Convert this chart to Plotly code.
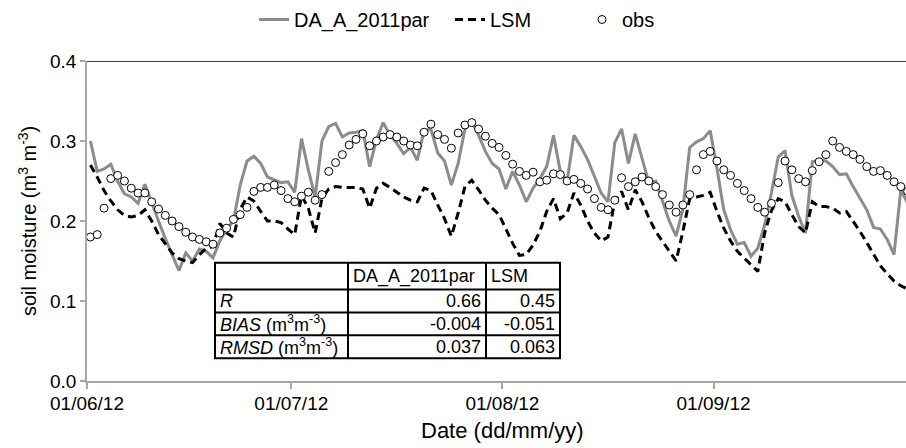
import pandas as pd
import plotly.graph_objects as go

# ---------------- data (daily, starting 01/06/2012) ----------------
start_date = "2012-06-01"

da_a_2011par = [
    0.300, 0.262, 0.265, 0.271, 0.250, 0.234, 0.230, 0.222, 0.246, 0.222,
    0.200, 0.178, 0.158, 0.138, 0.160, 0.150, 0.165, 0.162, 0.154, 0.175,
    0.190, 0.200, 0.245, 0.275, 0.281, 0.272, 0.255, 0.251, 0.248, 0.249,
    0.236, 0.303, 0.264, 0.230, 0.300, 0.318, 0.322, 0.305, 0.310, 0.311,
    0.313, 0.268, 0.302, 0.323, 0.307, 0.297, 0.284, 0.292, 0.276, 0.313,
    0.315, 0.285, 0.275, 0.245, 0.272, 0.315, 0.325, 0.307, 0.287, 0.272,
    0.265, 0.240, 0.262, 0.245, 0.224, 0.241, 0.253, 0.268, 0.307, 0.262,
    0.250, 0.307, 0.293, 0.277, 0.256, 0.235, 0.224, 0.298, 0.315, 0.272,
    0.309, 0.278, 0.248, 0.250, 0.224, 0.200, 0.181, 0.215, 0.292, 0.299,
    0.303, 0.313, 0.266, 0.214, 0.189, 0.171, 0.173, 0.156, 0.166, 0.195,
    0.235, 0.280, 0.288, 0.232, 0.206, 0.185, 0.274, 0.276, 0.275, 0.268,
    0.258, 0.259, 0.243, 0.228, 0.214, 0.192, 0.190, 0.177, 0.158, 0.239,
    0.222,
]

lsm = [
    0.270, 0.255, 0.238, 0.225, 0.214, 0.207, 0.205, 0.207, 0.214, 0.200,
    0.183, 0.172, 0.160, 0.153, 0.150, 0.148, 0.158, 0.166, 0.168, 0.197,
    0.185, 0.180, 0.215, 0.230, 0.225, 0.212, 0.200, 0.200, 0.198, 0.190,
    0.183, 0.232, 0.216, 0.185, 0.228, 0.240, 0.243, 0.242, 0.242, 0.242,
    0.240, 0.216, 0.241, 0.247, 0.242, 0.236, 0.230, 0.226, 0.224, 0.241,
    0.238, 0.220, 0.203, 0.181, 0.210, 0.243, 0.251, 0.239, 0.226, 0.216,
    0.208, 0.190, 0.172, 0.157, 0.158, 0.170, 0.187, 0.212, 0.228, 0.203,
    0.210, 0.235, 0.220, 0.200, 0.185, 0.175, 0.180, 0.225, 0.237, 0.214,
    0.239, 0.224, 0.204, 0.187, 0.175, 0.162, 0.150, 0.187, 0.228, 0.230,
    0.232, 0.236, 0.212, 0.191, 0.175, 0.162, 0.154, 0.146, 0.137, 0.185,
    0.213, 0.228, 0.224, 0.208, 0.193, 0.185, 0.224, 0.218, 0.218, 0.216,
    0.210, 0.212, 0.200, 0.187, 0.173, 0.158, 0.144, 0.134, 0.125, 0.119,
    0.115,
]

obs = [
    0.180, 0.183, 0.216, 0.253, 0.257, 0.250, 0.241, 0.235, 0.235, 0.224,
    0.215, 0.207, 0.200, 0.193, 0.186, 0.180, 0.177, 0.174, 0.171, 0.185,
    0.191, 0.202, 0.208, 0.217, 0.237, 0.242, 0.242, 0.245, 0.238, 0.228,
    0.224, 0.231, 0.236, 0.226, 0.233, 0.262, 0.273, 0.283, 0.295, 0.302,
    0.309, 0.294, 0.300, 0.305, 0.308, 0.305, 0.300, 0.295, 0.294, 0.311,
    0.321, 0.308, 0.302, 0.291, 0.310, 0.320, 0.323, 0.315, 0.306, 0.297,
    0.292, 0.282, 0.271, 0.262, 0.257, 0.261, 0.249, 0.251, 0.259, 0.258,
    0.250, 0.252, 0.247, 0.240, 0.228, 0.217, 0.214, 0.226, 0.254, 0.243,
    0.249, 0.255, 0.250, 0.243, 0.233, 0.220, 0.211, 0.220, 0.233, 0.264,
    0.283, 0.287, 0.275, 0.264, 0.257, 0.247, 0.238, 0.228, 0.217, 0.211,
    0.222, 0.248, 0.275, 0.264, 0.253, 0.249, 0.263, 0.274, 0.283, 0.300,
    0.292, 0.287, 0.283, 0.277, 0.268, 0.262, 0.263, 0.257, 0.249, 0.243,
    0.237,
]

tick_dates = ["2012-06-01", "2012-07-01", "2012-08-01", "2012-09-01"]
tick_labels = ["01/06/12", "01/07/12", "01/08/12", "01/09/12"]
y_ticks = [0.0, 0.1, 0.2, 0.3, 0.4]

table_header = ["", "DA_A_2011par", "LSM"]
table_rows = [
    "<i>R</i>",
    "<i>BIAS</i> (m<sup>3</sup>m<sup>-3</sup>)",
    "<i>RMSD</i> (m<sup>3</sup>m<sup>-3</sup>)",
]
da_stats = ["0.66", "-0.004", "0.037"]
lsm_stats = ["0.45", "-0.051", "0.063"]

# ---------------- figure ----------------
W, H = 906, 448
L, T, R, B = 87, 59, 0, 67
PW, PH = W - L - R, H - T - B
FONT = "Liberation Sans, Arial, sans-serif"

# points sit mid-day (Excel date axis "between tick marks")
dates = pd.date_range(start_date, periods=len(da_a_2011par), freq="D") + pd.Timedelta(hours=12)
x_end = pd.Timestamp(start_date) + pd.Timedelta(days=120.26)


def px_x(p):
    return (p - L) / PW


def px_y(p):
    return (H - B - p) / PH


fig = go.Figure()
fig.add_trace(go.Scatter(
    x=dates, y=da_a_2011par, name="DA_A_2011par", mode="lines",
    line=dict(color="#8c8c8c", width=3), legend="legend",
))
fig.add_trace(go.Scatter(
    x=dates, y=lsm, name="LSM", mode="lines",
    line=dict(color="#000000", width=3, dash="8px,5px"), legend="legend2",
))
fig.add_trace(go.Scatter(
    x=dates, y=obs, name="obs", mode="markers",
    marker=dict(symbol="circle", size=8, color="white",
                line=dict(color="#000000", width=1)), legend="legend3",
))

shapes = [
    # top border line at 0.4
    dict(type="line", xref="paper", yref="y", x0=0, x1=1, y0=0.4, y1=0.4,
         line=dict(color="#000000", width=1.5), layer="above"),
]

# table geometry (pixels)
tx0, tx1 = 215, 560
col_div = [348, 486]
row_y = [262, 289, 312, 335, 358]

shapes.append(dict(type="rect", xref="paper", yref="paper",
                   x0=px_x(tx0), x1=px_x(tx1), y0=px_y(row_y[0]), y1=px_y(row_y[-1]),
                   line=dict(color="#000000", width=2), fillcolor="white", layer="above"))
for cx in col_div:
    shapes.append(dict(type="line", xref="paper", yref="paper",
                       x0=px_x(cx), x1=px_x(cx), y0=px_y(row_y[0]), y1=px_y(row_y[-1]),
                       line=dict(color="#000000", width=2), layer="above"))
for ry in row_y[1:-1]:
    shapes.append(dict(type="line", xref="paper", yref="paper",
                       x0=px_x(tx0), x1=px_x(tx1), y0=px_y(ry), y1=px_y(ry),
                       line=dict(color="#000000", width=2), layer="above"))

annotations = []
tfont = dict(family=FONT, size=18, color="#000000")
hdr_y = (row_y[0] + row_y[1]) / 2
annotations.append(dict(text=table_header[1], xref="paper", yref="paper",
                        x=px_x(col_div[0] + 3), y=px_y(hdr_y), xanchor="left",
                        yanchor="middle", showarrow=False, font=tfont))
annotations.append(dict(text=table_header[2], xref="paper", yref="paper",
                        x=px_x(col_div[1] + 3), y=px_y(hdr_y), xanchor="left",
                        yanchor="middle", showarrow=False, font=tfont))
for i, (lab, dv, lv) in enumerate(zip(table_rows, da_stats, lsm_stats)):
    cy = (row_y[i + 1] + row_y[i + 2]) / 2
    annotations.append(dict(text=lab, xref="paper", yref="paper", x=px_x(tx0 + 3),
                            y=px_y(cy), xanchor="left", yanchor="middle",
                            showarrow=False, font=tfont))
    annotations.append(dict(text=dv, xref="paper", yref="paper", x=px_x(col_div[1] - 3),
                            y=px_y(cy), xanchor="right", yanchor="middle",
                            showarrow=False, font=tfont))
    annotations.append(dict(text=lv, xref="paper", yref="paper", x=px_x(tx1 - 3),
                            y=px_y(cy), xanchor="right", yanchor="middle",
                            showarrow=False, font=tfont))

# axis titles
annotations.append(dict(text="Date (dd/mm/yy)", xref="paper", yref="paper",
                        x=px_x(502), y=px_y(431), xanchor="center", yanchor="middle",
                        showarrow=False, font=dict(family=FONT, size=22, color="#000000")))
annotations.append(dict(text="soil moisture (m<sup>3</sup> m<sup>-3</sup>)", xref="paper",
                        yref="paper", x=px_x(27), y=0.5, xanchor="center", yanchor="middle",
                        textangle=-90, showarrow=False,
                        font=dict(family=FONT, size=20, color="#000000")))

lfont = dict(family=FONT, size=20, color="#000000")
leg_common = dict(orientation="h", y=px_y(17), yanchor="middle", xanchor="left",
                  font=lfont, bgcolor="rgba(0,0,0,0)", borderwidth=0)

fig.update_layout(
    width=W, height=H,
    margin=dict(l=L, r=R, t=T, b=B, pad=0),
    paper_bgcolor="white", plot_bgcolor="white",
    font=dict(family=FONT, size=18, color="#000000"),
    showlegend=True,
    legend=dict(x=px_x(254), **leg_common),
    legend2=dict(x=px_x(450), **leg_common),
    legend3=dict(x=px_x(582), **leg_common),
    xaxis=dict(type="date", range=[pd.Timestamp(start_date), x_end],
               tickvals=tick_dates, ticktext=tick_labels,
               showline=True, linecolor="#a6a6a6", linewidth=1.5,
               ticks="outside", ticklen=6, tickwidth=1.5, tickcolor="#a6a6a6",
               ticklabelstandoff=-2,
               showgrid=False, zeroline=False,
               tickfont=dict(family=FONT, size=19, color="#000000")),
    yaxis=dict(range=[0, 0.4], tickvals=y_ticks, tickformat=".1f",
               showline=True, linecolor="#a6a6a6", linewidth=1.5,
               ticks="outside", ticklen=5, tickwidth=1.5, tickcolor="#a6a6a6",
               showgrid=False, zeroline=False,
               tickfont=dict(family=FONT, size=19, color="#000000")),
    shapes=shapes,
    annotations=annotations,
)

fig.write_html("out.html")
